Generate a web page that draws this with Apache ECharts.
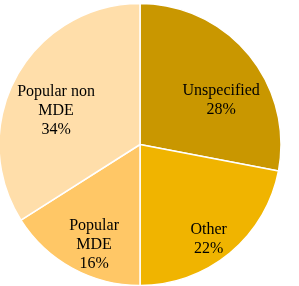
<!DOCTYPE html>
<html><head><meta charset="utf-8">
<script src="https://cdn.jsdelivr.net/npm/echarts@6/dist/echarts.min.js"></script>
<style>html,body{margin:0;padding:0;background:#fff}#c{width:299px;height:286px}</style>
</head><body><div id="c"></div>
<script>
const categories = ['Unspecified', 'Other', 'Popular\nMDE', 'Popular non\nMDE'];
const values = [28, 22, 16, 34];
const colors = ['#C99700', '#F0B400', '#FFC766', '#FFDEAA'];
const labelOffsets = [[3, 20], [4, 17], [3, 11], [5, 15]];

const chart = echarts.init(document.getElementById('c'), null, {renderer: 'canvas'});
const baseData = categories.map((n, i) => ({name: n, value: values[i], itemStyle: {color: colors[i]}}));
const labelData = categories.map((n, i) => ({name: n, value: values[i], label: {offset: labelOffsets[i]}}));
chart.setOption({
  animation: false,
  series: [
    {
      type: 'pie', center: [140, 144.5], radius: [0, 141], startAngle: 90, clockwise: true,
      label: {show: false}, labelLine: {show: false},
      itemStyle: {borderColor: '#fff', borderWidth: 1.5},
      emphasis: {disabled: true},
      data: baseData
    },
    {
      type: 'pie', center: [140, 144.5], radius: [56, 141], startAngle: 90, clockwise: true,
      silent: true,
      itemStyle: {color: 'transparent'},
      label: {show: true, position: 'inside', formatter: p => p.name + '\n' + p.value + '%',
        fontFamily: "'Liberation Serif', 'Times New Roman', serif", fontSize: 16, color: '#000', lineHeight: 19, align: 'center'},
      labelLine: {show: false},
      data: labelData
    }
  ]
});
</script></body></html>
